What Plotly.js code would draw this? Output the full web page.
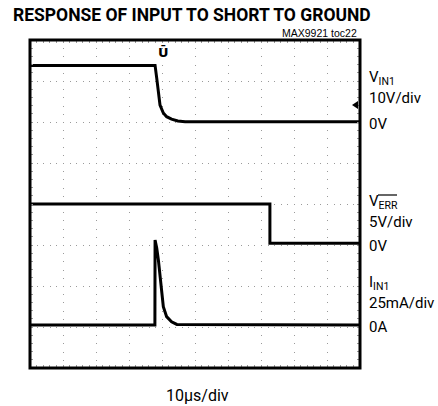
<!DOCTYPE html>
<html>
<head>
<meta charset="utf-8">
<script src="https://cdn.plot.ly/plotly-3.0.1.min.js"></script>
<style>html,body{margin:0;padding:0;background:#fff;}#chart{width:438px;height:406px;}</style>
</head>
<body>
<div id="chart"></div>
<script>
// ---- data (time in microseconds, trigger at centre) ----
const timeVin = [-50, -12.1, -11.6, -11.1, -10.6, -9.6, -8.6, -7.1, -5.2, -3.0, 50];
const vin1    = [13.8, 13.8, 10.7, 6.6, 4.1, 2.2, 1.3, 0.7, 0.25, 0.05, 0.05];     // V
const timeErr = [-50, 22.7, 22.7, 50];
const verr    = [5.0, 5.0, 0.2, 0.2];                                              // V
const timeIin = [-50, -12.15, -12.1, -11.6, -11.1, -10.6, -10.1, -9.6, -8.6, -7.1, -5.5, 50];
const iin1    = [1.2, 1.2, 53, 48.2, 40.9, 30.7, 20.7, 12.4, 6.3, 3.2, 1.6, 1.2];  // mA

const titleText = 'RESPONSE OF INPUT TO SHORT TO GROUND';
const noteText = 'MAX9921 toc22';
const timeLabel = '10\u00b5s/div';
const rightLabels = ['V<sub>IN1</sub>', '10V/div', '0V', 'V<sub>ERR</sub>', '5V/div', '0V', 'I<sub>IN1</sub>', '25mA/div', '0A'];
const rightLabelY = [78, 98, 124, 202, 222, 246, 283, 303, 327];

// ---- layout helpers (pixel -> paper) ----
const L = 30, R = 360, T = 40, B = 368;
const px = v => (v - L) / (R - L);
const py = v => (B - v) / (B - T);
const sans = 'Roboto, "Liberation Sans", Arial, sans-serif';

const traceStyle = {mode: 'lines', line: {color: '#000', width: 3}, hoverinfo: 'skip', showlegend: false};
const data = [
  Object.assign({x: timeVin, y: vin1, xaxis: 'x', yaxis: 'y'}, traceStyle),
  Object.assign({x: timeErr, y: verr, xaxis: 'x', yaxis: 'y2'}, traceStyle),
  Object.assign({x: timeIin, y: iin1, xaxis: 'x', yaxis: 'y3'}, traceStyle)
];

const grid = '#9a9a9a';
const annotations = [
  {text: '<b>' + titleText + '</b>', x: px(11), y: py(15), xref: 'paper', yref: 'paper', xanchor: 'left', yanchor: 'middle', showarrow: false,
   font: {family: sans, size: 17.5, color: '#000', weight: 900}},
  {text: noteText, x: px(359), y: py(33), xref: 'paper', yref: 'paper', xanchor: 'right', yanchor: 'middle', showarrow: false,
   font: {family: '"Liberation Sans", Arial, sans-serif', size: 10.5, color: '#000'}},
  {text: timeLabel, x: px(197), y: py(395), xref: 'paper', yref: 'paper', xanchor: 'center', yanchor: 'middle', showarrow: false,
   font: {family: sans, size: 16, color: '#000'}},
  {text: '<b>\u016a</b>', x: px(163), y: py(52), xref: 'paper', yref: 'paper', xanchor: 'center', yanchor: 'middle', showarrow: false,
   font: {family: '"DejaVu Sans", sans-serif', size: 13, color: '#000'}}
];
rightLabels.forEach((t, i) => {
  annotations.push({text: t, x: px(367), y: py(rightLabelY[i]), xref: 'paper', yref: 'paper', xanchor: 'left', yanchor: 'middle',
    showarrow: false, font: {family: sans, size: 15, color: '#000'}});
});

const shapes = [
  {type: 'rect', xref: 'paper', yref: 'paper', x0: 0, x1: 1, y0: 0, y1: 1, line: {color: '#000', width: 3}, layer: 'above'},
  {type: 'line', xref: 'paper', yref: 'paper', x0: px(378), x1: px(397), y0: py(195), y1: py(195), line: {color: '#000', width: 1.2}},
  {type: 'path', xref: 'paper', yref: 'paper', path: 'M ' + px(352) + ' ' + py(105) + ' L ' + px(358) + ' ' + py(101) + ' L ' + px(358) + ' ' + py(109) + ' Z',
   fillcolor: '#000', line: {color: '#000', width: 0}}
];

const baseX = {range: [-50, 50], showticklabels: false, zeroline: false, showline: false, fixedrange: true};
const layout = {
  width: 438, height: 406,
  margin: {l: L, r: 438 - R, t: T, b: 406 - B, pad: 0},
  paper_bgcolor: '#fff', plot_bgcolor: '#fff',
  showlegend: false,
  xaxis: Object.assign({}, baseX, {dtick: 10, tick0: 0, showgrid: true, gridcolor: grid, gridwidth: 1, griddash: '1px,7.2px',
    ticks: 'inside', ticklen: 3, tickcolor: grid, mirror: 'ticks',
    minor: {dtick: 2, tick0: 0, ticks: 'inside', ticklen: 3, tickcolor: grid, showgrid: false}}),
  xaxis2: Object.assign({}, baseX, {overlaying: 'x', anchor: 'free', position: 0.5, dtick: 2, tick0: 0, showgrid: false,
    ticks: 'outside', ticklen: 3, tickcolor: '#777'}),
  xaxis3: Object.assign({}, baseX, {overlaying: 'x', anchor: 'free', position: 0.5, dtick: 2, tick0: 0, showgrid: false,
    ticks: 'inside', ticklen: 3, tickcolor: '#777'}),
  yaxis: {range: [-60, 20], dtick: 10, tick0: 0, showgrid: true, gridcolor: grid, gridwidth: 1, griddash: '1px,5.6px',
    showticklabels: false, zeroline: false, showline: false, fixedrange: true,
    ticks: 'inside', ticklen: 3, tickcolor: grid, mirror: 'ticks',
    minor: {dtick: 2, tick0: 0, ticks: 'inside', ticklen: 3, tickcolor: grid, showgrid: false}},
  yaxis2: {range: [-15, 25], overlaying: 'y', visible: false, fixedrange: true},
  yaxis3: {range: [-25, 175], overlaying: 'y', visible: false, fixedrange: true},
  yaxis4: {range: [-4, 4], overlaying: 'y', anchor: 'free', position: 0.5, dtick: 0.2, tick0: 0, showgrid: false,
    showticklabels: false, zeroline: false, showline: false, ticks: 'outside', ticklen: 3, tickcolor: '#777', fixedrange: true},
  yaxis5: {range: [-4, 4], overlaying: 'y', anchor: 'free', position: 0.5, dtick: 0.2, tick0: 0, showgrid: false,
    showticklabels: false, zeroline: false, showline: false, ticks: 'inside', ticklen: 3, tickcolor: '#777', fixedrange: true},
  annotations: annotations,
  shapes: shapes
};

Plotly.newPlot('chart', data, layout, {staticPlot: true, displayModeBar: false});
</script>
</body>
</html>
